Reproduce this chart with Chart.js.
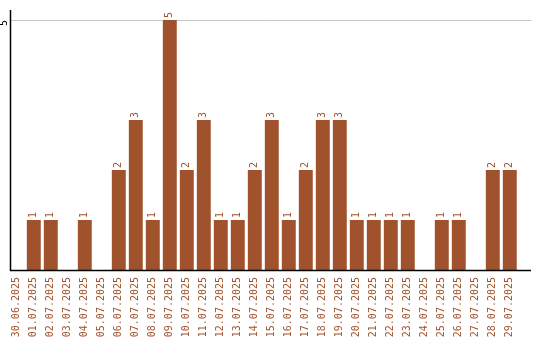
<!DOCTYPE html>
<html>
<head>
<meta charset="utf-8">
<script src="https://cdn.jsdelivr.net/npm/chart.js@4/dist/chart.umd.min.js"></script>
<style>
  html, body { margin: 0; padding: 0; background: #fff; }
  #wrap { width: 540px; height: 340px; }
</style>
</head>
<body>
<div id="wrap"><canvas id="chart"></canvas></div>
<script>
const days = [
    '30.06.2025', '01.07.2025', '02.07.2025', '03.07.2025', '04.07.2025', '05.07.2025',
    '06.07.2025', '07.07.2025', '08.07.2025', '09.07.2025', '10.07.2025', '11.07.2025',
    '12.07.2025', '13.07.2025', '14.07.2025', '15.07.2025', '16.07.2025', '17.07.2025',
    '18.07.2025', '19.07.2025', '20.07.2025', '21.07.2025', '22.07.2025', '23.07.2025',
    '24.07.2025', '25.07.2025', '26.07.2025', '27.07.2025', '28.07.2025', '29.07.2025'
];
const counts = [0, 1, 1, 0, 1, 0, 2, 3, 1, 5, 2, 3, 1, 1, 2, 3, 1, 2, 3, 3, 1, 1, 1, 1, 0, 1, 1, 0, 2, 2];
const yTicks = [5];

const barColor = '#a0522d';
const mono = 'DejaVu Sans Mono';

// values above the bars, written upwards
const valueLabels = {
    id: 'valueLabels',
    afterDatasetsDraw(chart) {
        const ctx = chart.ctx;
        const meta = chart.getDatasetMeta(0);
        ctx.save();
        ctx.font = '10px "' + mono + '"';
        ctx.fillStyle = barColor;
        ctx.textAlign = 'left';
        ctx.textBaseline = 'middle';
        meta.data.forEach((bar, i) => {
            if (!counts[i]) return;
            ctx.save();
            ctx.translate(bar.x, bar.y - 2);
            ctx.rotate(-Math.PI / 2);
            ctx.fillText(String(counts[i]), 0, 0);
            ctx.restore();
        });
        ctx.restore();
    }
};

// axis lines and the single grid line, a bit wider than the bar area
const axisLines = {
    id: 'axisLines',
    beforeDatasetsDraw(chart) {
        const ctx = chart.ctx;
        const y = chart.scales.y;
        const left = 10.5, right = 531;
        ctx.save();
        ctx.lineWidth = 1;
        ctx.strokeStyle = '#c8c8c8';
        yTicks.forEach(v => {
            const py = Math.round(y.getPixelForValue(v)) + 0.5;
            ctx.beginPath();
            ctx.moveTo(left, py);
            ctx.lineTo(right, py);
            ctx.stroke();
        });
        ctx.restore();
    },
    afterDatasetsDraw(chart) {
        const ctx = chart.ctx;
        const y = chart.scales.y;
        const left = 10.5, right = 531;
        const zero = Math.round(y.getPixelForValue(0)) + 0.5;
        ctx.save();
        ctx.lineWidth = 1.5;
        ctx.strokeStyle = '#000';
        ctx.beginPath();
        ctx.moveTo(left, 10);
        ctx.lineTo(left, zero);
        ctx.lineTo(right, zero);
        ctx.stroke();
        ctx.restore();
    }
};

new Chart(document.getElementById('chart'), {
    type: 'bar',
    data: {
        labels: days,
        datasets: [{
            data: counts,
            backgroundColor: barColor,
            borderWidth: 0,
            barPercentage: 0.82,
            categoryPercentage: 1
        }]
    },
    options: {
        responsive: true,
        maintainAspectRatio: false,
        animation: false,
        layout: { padding: { top: 20, right: 21.7, left: 0, bottom: 0 } },
        plugins: {
            legend: { display: false },
            tooltip: { enabled: false }
        },
        scales: {
            x: {
                grid: { display: false, drawTicks: false },
                border: { display: false },
                afterFit: s => { s.height = 70; },
                ticks: {
                    autoSkip: false,
                    minRotation: 90,
                    maxRotation: 90,
                    padding: 7,
                    color: barColor,
                    font: { family: mono, size: 10 }
                }
            },
            y: {
                min: 0,
                max: 5,
                grid: { display: false, drawTicks: false },
                border: { display: false },
                afterFit: s => { s.width = 8.3; },
                afterBuildTicks: s => { s.ticks = yTicks.map(v => ({ value: v })); },
                ticks: {
                    minRotation: 90,
                    maxRotation: 90,
                    padding: 4,
                    color: '#000',
                    font: { family: mono, size: 10 }
                }
            }
        }
    },
    plugins: [axisLines, valueLabels]
});
</script>
</body>
</html>
